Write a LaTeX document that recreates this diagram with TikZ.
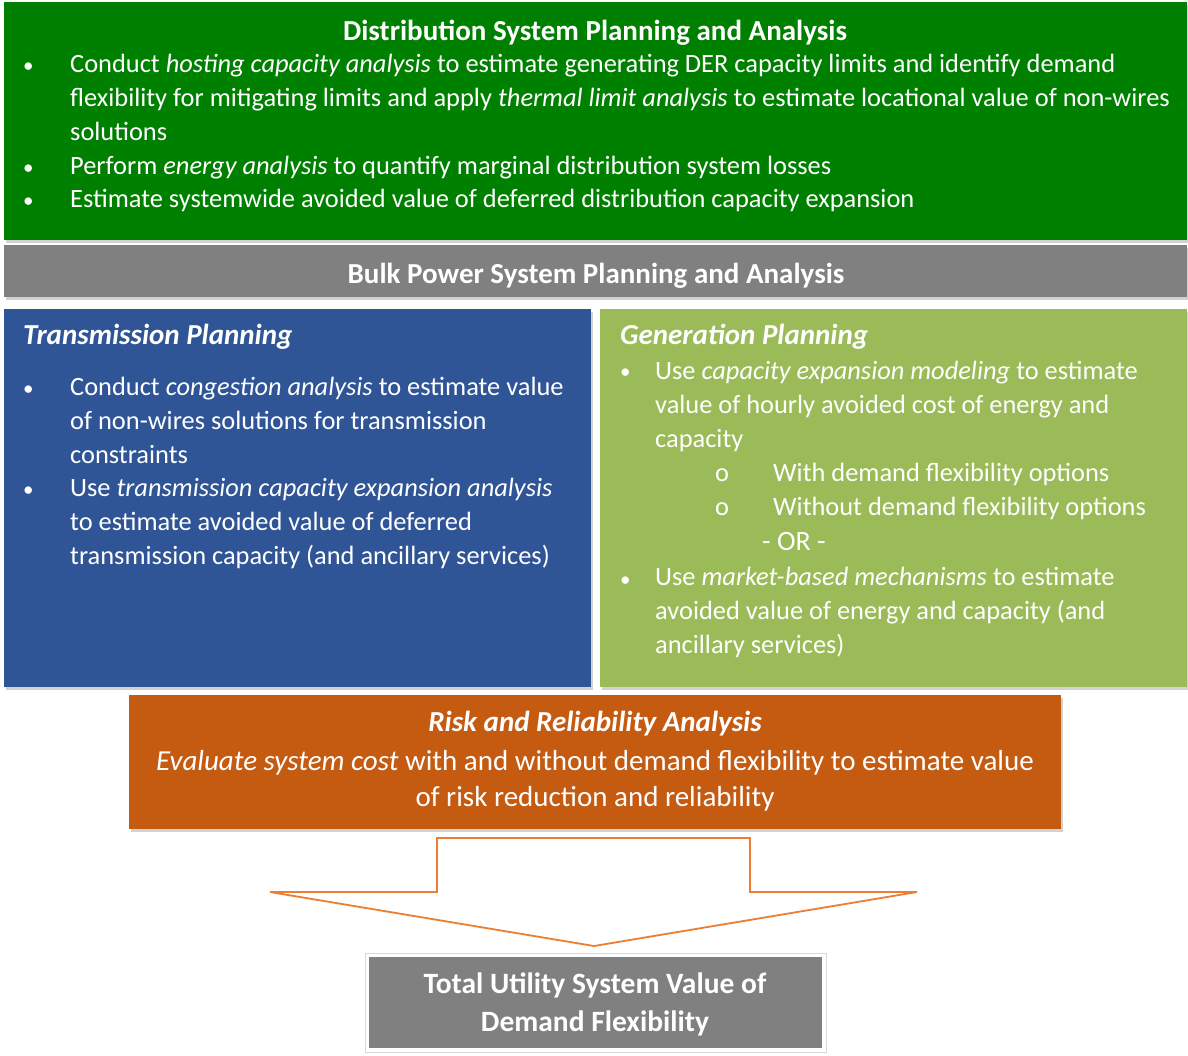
\documentclass[tikz,border=0pt]{standalone}
\usepackage{fontspec}
\setmainfont{Carlito}
\usetikzlibrary{shadows}
\definecolor{distgreen}{RGB}{0,128,0}
\definecolor{bulkgray}{RGB}{128,128,128}
\definecolor{transblue}{RGB}{47,85,151}
\definecolor{gengreen}{RGB}{155,187,89}
\definecolor{riskorange}{RGB}{197,90,17}
\definecolor{arroworange}{RGB}{237,125,49}
\tikzstyle{panel} = [rectangle, inner sep=0pt, drop shadow={shadow xshift=1.5pt, shadow yshift=-2.5pt, fill=black!35}]
% multi-line nodes are placed by the baseline of their last line
\tikzstyle{body} = [text=white, anchor=base west, align=left, inner sep=0pt, font=\fontsize{26.4}{34}\selectfont]
\tikzstyle{dot} = [body, font=\fontsize{21}{34}\selectfont]
\tikzstyle{heading} = [body, font=\fontsize{29}{34}\selectfont\bfseries]

\begin{document}
\begin{tikzpicture}[x=1pt, y=-1pt]
    \useasboundingbox (0,0) rectangle (1188,1055);
    \node[panel, fill=distgreen, minimum width=1183, minimum height=238] (dist) at (595.5,121) {};
    \node[panel, fill=bulkgray, minimum width=1183, minimum height=52] (bulk) at (595.5,271) {};
    \node[panel, fill=transblue, minimum width=587, minimum height=378] (trans) at (297.5,498) {};
    \node[panel, fill=gengreen, minimum width=587, minimum height=378] (gen) at (893.5,498) {};
    \node[panel, fill=riskorange, minimum width=932, minimum height=134] (risk) at (595,762) {};

    % distribution
    \node[heading, anchor=base] (disttitle) at (595,40) {Distribution System Planning and Analysis};
    \node[dot] (distdotA) at (23,72) {•};
    \node[body] (distA) at (70,140) {Conduct \textit{hosting capacity analysis} to estimate generating DER capacity limits and identify demand\\flexibility for mitigating limits and apply \textit{thermal limit analysis} to estimate locational value of non-wires\\solutions};
    \node[dot] (distdotB) at (23,174) {•};
    \node[body] (distB) at (70,174) {Perform \textit{energy analysis} to quantify marginal distribution system losses};
    \node[dot] (distdotC) at (23,207) {•};
    \node[body] (distC) at (70,207) {Estimate systemwide avoided value of deferred distribution capacity expansion};

    \node[heading, anchor=base] (bulktitle) at (596,283) {Bulk Power System Planning and Analysis};

    % transmission
    \node[heading, font=\fontsize{29}{34}\selectfont\bfseries\itshape] (transtitle) at (23,344) {Transmission Planning};
    \node[dot] (transdotA) at (23,395) {•};
    \node[body] (transA) at (70,463) {Conduct \textit{congestion analysis} to estimate value\\of non-wires solutions for transmission\\constraints};
    \node[dot] (transdotB) at (23,496) {•};
    \node[body] (transB) at (70,564) {Use \textit{transmission capacity expansion analysis}\\to estimate avoided value of deferred\\transmission capacity (and ancillary services)};

    % generation
    \node[heading, font=\fontsize{29}{34}\selectfont\bfseries\itshape] (gentitle) at (620,344) {Generation Planning};
    \node[dot] (gendotA) at (620,378) {•};
    \node[body] (genA) at (655,447) {Use \textit{capacity expansion modeling} to estimate\\value of hourly avoided cost of energy and\\capacity};
    \node[body] (gensubA) at (715,481) {o};
    \node[body] (genwith) at (773,481) {With demand flexibility options};
    \node[body] (gensubB) at (715,515) {o};
    \node[body] (genwithout) at (773,515) {Without demand flexibility options};
    \node[body, font=\fontsize{28}{34}\selectfont] (genor) at (762,550) {- OR -};
    \node[dot] (gendotB) at (620,586) {•};
    \node[body] (genB) at (655,653) {Use \textit{market-based mechanisms} to estimate\\avoided value of energy and capacity (and\\ancillary services)};

    % risk and reliability
    \node[heading, anchor=base, font=\fontsize{29}{36}\selectfont\bfseries\itshape] (risktitle) at (595,731) {Risk and Reliability Analysis};
    \node[body, anchor=base, align=center, font=\fontsize{29}{36}\selectfont] (risktext) at (595,806) {\textit{Evaluate system cost} with and without demand flexibility to estimate value\\of risk reduction and reliability};

    % block arrow
    \draw[arroworange, line width=1.8pt, fill=white, line join=miter] (437,838) -- (750,838) -- (750,892) -- (917,892) -- (594,946) -- (270,892) -- (437,892) -- cycle;

    % total value
    \node[rectangle, draw=black!15, fill=white, minimum width=461, minimum height=99, inner sep=0pt] (totalframe) at (595.5,1002.5) {};
    \node[rectangle, fill=bulkgray, minimum width=453, minimum height=91, inner sep=0pt] (total) at (595.5,1002.5) {};
    \node[heading, anchor=base, align=center, font=\fontsize{29.5}{38}\selectfont\bfseries] (totaltext) at (595,1031) {Total Utility System Value of\\Demand Flexibility};
\end{tikzpicture}
\end{document}
